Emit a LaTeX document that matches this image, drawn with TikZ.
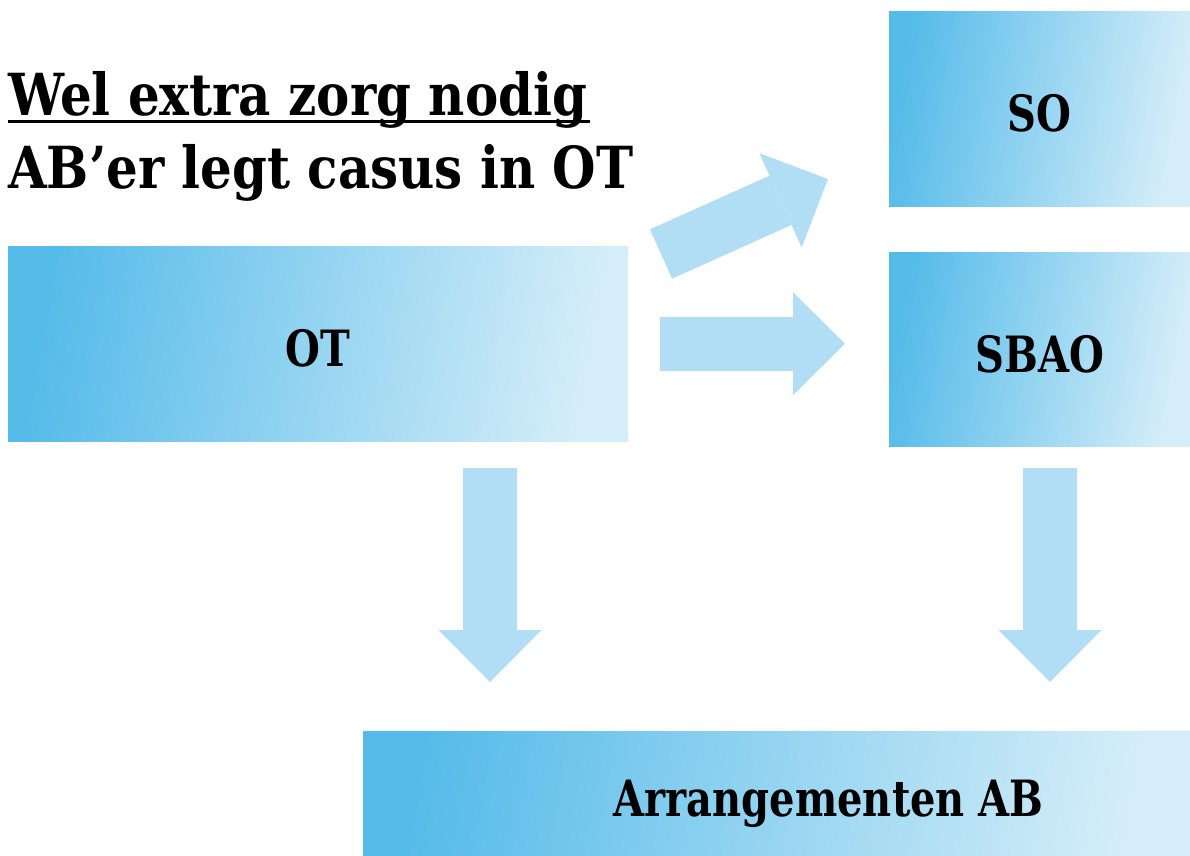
\documentclass[tikz,border=0pt]{standalone}
\usepackage{fontspec}
\setmainfont{DejaVu Serif}[FakeStretch=0.8]
\newfontfamily\titlefont{DejaVu Serif}[FakeStretch=0.86]
\usetikzlibrary{arrows.meta,positioning}

\definecolor{boxdark}{HTML}{55BBE9}
\definecolor{boxlight}{HTML}{D6EEF9}
\definecolor{arrowblue}{HTML}{B1DEF5}

\tikzset{
  box/.style={left color=boxdark, right color=boxlight, shading angle=80,
    inner sep=0pt, anchor=north west, text height=46pt, text depth=0pt,
    font=\fontsize{50}{50}\selectfont\bfseries},
  flow/.style={draw=arrowblue, line width=54pt,
    -{Triangle[length=52pt,width=103pt,line width=0pt]}},
  title/.style={anchor=base west, inner sep=0pt, font=\titlefont\fontsize{58}{58}\selectfont\bfseries}
}

\begin{document}
\begin{tikzpicture}[x=1pt,y=1pt,yscale=-1]
\useasboundingbox (0,0) rectangle (1190,855);

% Titel
\draw[line width=3pt] (8,121) -- (590,121);
\node[title] (title1) at (8,115) {Wel extra zorg nodig};
\node[title] (title2) at (8,188) {AB’er legt casus in OT};

% Blokken
\node[box, minimum width=620pt, minimum height=195pt] (OT) at (8,246) {OT};
\node[box, minimum width=301pt, minimum height=195pt] (SO) at (889,11) {SO};
\node[box, minimum width=301pt, minimum height=194pt] (SBAO) at (889,252) {SBAO};
\node[box, minimum width=827pt, minimum height=124pt] (Arr) at (363,731) {\hspace*{104pt}Arrangementen AB};

% Pijlen
\coordinate (up tail) at (661,254);
\coordinate (up tip) at (828,179);
\coordinate (left top) at (490,468);
\coordinate (right top) at (1050,468);

\draw[flow] (up tail) -- (up tip);
\draw[flow, shorten <=32pt, shorten >=44pt] (OT.east) -- (OT.east -| SBAO.west);
\draw[flow, shorten >=49pt] (left top) -- (left top |- Arr.north);
\draw[flow, shorten >=49pt] (right top) -- (right top |- Arr.north);

\end{tikzpicture}
\end{document}
